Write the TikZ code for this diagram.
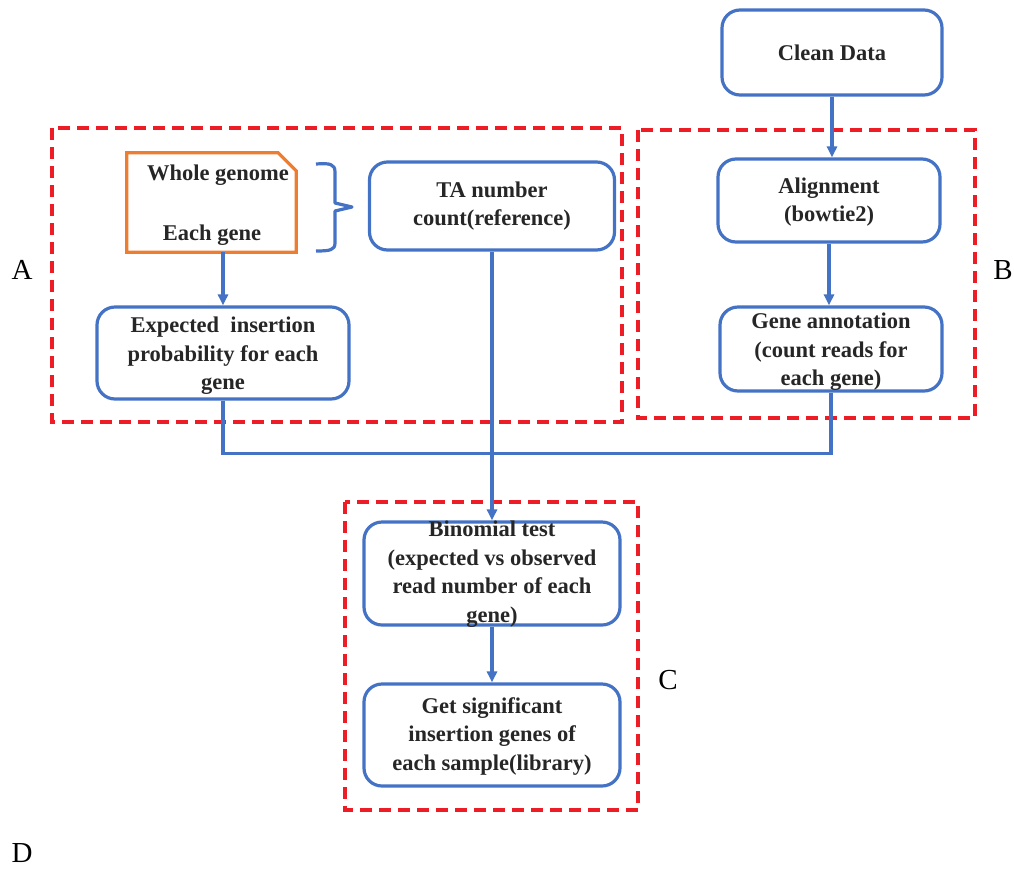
\documentclass[tikz,border=0pt]{standalone}
\usepackage{fontspec}
\setmainfont{Liberation Serif}
\usetikzlibrary{arrows.meta}
\definecolor{bblue}{HTML}{4472C4}
\definecolor{dred}{HTML}{EE1C25}
\definecolor{oorange}{HTML}{ED7D31}
\begin{document}
\begin{tikzpicture}[x=1pt,y=-1pt,
  box/.style={draw=bblue,line width=3.2pt,rounded corners=18pt,inner sep=0pt},
  txt/.style={align=center,font=\bfseries\fontsize{22.5}{28.5}\selectfont,text=black!85,inner sep=0pt},
  group/.style={draw=dred,line width=3.2pt,dash pattern=on 12pt off 7pt},
  lab/.style={font=\fontsize{29}{30}\selectfont,inner sep=0pt},
  conn/.style={draw=bblue,line width=3.2pt},
  arr/.style={conn,-{Triangle[length=11pt,width=10pt]}}]
\useasboundingbox (0,0) rectangle (1014,868);
% dashed groups
\draw[group] (52,128) rectangle (622,422);
\draw[group] (638,130) rectangle (975,418);
\draw[group] (345,502) rectangle (638,810);
% boxes
\node[box,minimum width=220pt,minimum height=85pt] (clean) at (832,52.5) {};
\node[txt] (cleant) at (clean) {Clean Data};
\node[box,minimum width=222pt,minimum height=83pt] (align) at (829,200.5) {};
\node[txt] (alignt) at (829,202) {Alignment\\(bowtie2)};
\node[box,minimum width=222pt,minimum height=84pt] (gene) at (831,349) {};
\node[txt] (genet) at (831,352) {Gene annotation\\(count reads for\\each gene)};
\node[box,minimum width=245pt,minimum height=88pt] (ta) at (492,206) {};
\node[txt] (tat) at (ta) {TA number\\count(reference)};
\node[box,minimum width=252pt,minimum height=92pt] (exp) at (223,353) {};
\node[txt] (expt) at (223,356) {Expected\ \ insertion\\probability for each\\gene};
\node[box,minimum width=256pt,minimum height=103pt] (bin) at (492,573.5) {};
\node[txt] (bint) at (492,574) {Binomial test\\(expected vs observed\\read number of each\\gene)};
\node[box,minimum width=256pt,minimum height=102pt] (sig) at (492,735) {};
\node[txt] (sigt) at (492,736) {Get significant\\insertion genes of\\each sample(library)};
% document shape
\node[minimum width=169pt,minimum height=99pt,inner sep=0pt] (doc) at (211.5,202.5) {};
\draw[draw=oorange,line width=3.2pt] (doc.south west) -- (doc.north west) -- ([xshift=-18pt]doc.north east)
  -- ([yshift=-18pt]doc.north east) -- (doc.south east) -- cycle;
\node[txt] (wg) at (218,175) {Whole genome};
\node[txt] (eg) at (212,235) {Each gene};
% brace
\coordinate (br) at (352,207);
\draw[conn,line join=round] (316,164) .. controls (330,163) and (335,164) .. (335,172)
  -- (335,203) -- (br) -- (335,211) -- (335,243) .. controls (335,250) and (330,251) .. (316,251);
% connectors
\draw[arr] (exp.north |- doc.south) -- (exp.north);
\draw[arr] (clean.south) -- (clean.south |- align.north);
\draw[arr] (align.south) -- (align.south |- gene.north);
\draw[conn] (exp.south) -- ++(0,53) -| (gene.south);
\draw[arr] (ta.south) -- (bin.north);
\draw[arr] (bin.south) -- (sig.north);
% labels
\node[lab] (la) at (22,270) {A};
\node[lab] (lb) at (1003,270) {B};
\node[lab] (lc) at (668,680) {C};
\node[lab] (ld) at (22,853) {D};
\end{tikzpicture}
\end{document}
